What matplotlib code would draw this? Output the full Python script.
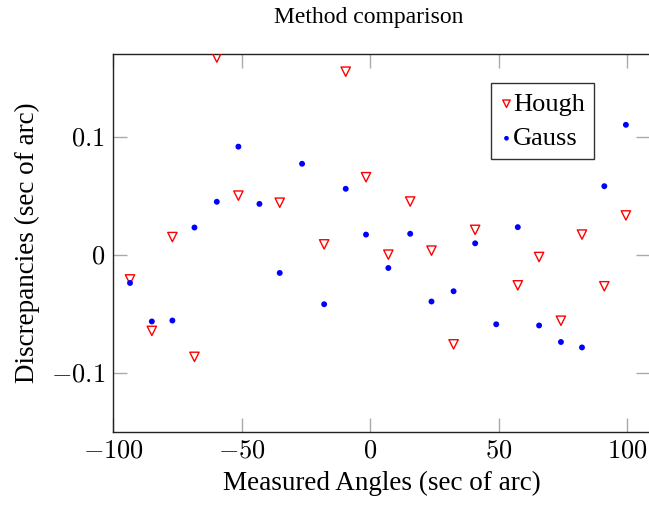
import matplotlib
matplotlib.use("Agg")
import matplotlib.pyplot as plt

x_vals = [-93.5, -85.0, -77.0, -68.4, -59.7, -51.3, -43.1, -35.2, -26.5, -17.9, -9.5, -1.6,
          7.1, 15.6, 23.9, 32.5, 40.9, 49.1, 57.5, 65.8, 74.3, 82.5, 91.2, 99.6]

hough_x = [-93.5, -85.0, -77.0, -68.4, -59.7, -51.3, -35.2, -17.9, -9.5, -1.6,
           7.1, 15.6, 23.9, 32.5, 40.9, 57.5, 65.8, 74.3, 82.5, 91.2, 99.6]
hough_y = [-0.021, -0.0646, 0.0149, -0.0866, 0.167, 0.050, 0.044, 0.0087, 0.155, 0.0656,
           0.0, 0.045, 0.0034, -0.076, 0.021, -0.026, -0.002, -0.056, 0.017, -0.0268, 0.0332]

gauss_x = x_vals
gauss_y = [-0.024, -0.0566, -0.0558, 0.023, 0.0448, 0.0915, 0.043, -0.0155, 0.077, -0.042,
           0.0558, 0.017, -0.0113, 0.0177, -0.0397, -0.031, 0.0096, -0.059, 0.0233, -0.060,
           -0.074, -0.0786, 0.058, 0.110]

xticks = [-100, -50, 0, 50, 100]
yticks = [-0.1, 0, 0.1]
ytick_labels = [r"$-0.1$", r"$0$", r"$0.1$"]
xtick_labels = [r"$-100$", r"$-50$", r"$0$", r"$50$", r"$100$"]

plt.rcParams['font.family'] = ['Liberation Serif', 'DejaVu Serif']
plt.rcParams['mathtext.fontset'] = 'cm'

fig = plt.figure(figsize=(6.49, 5.08), dpi=100)
ax = fig.add_axes([0.1746, 0.1502, 0.827, 0.7435])

ax.scatter(hough_x, hough_y, marker='v', s=45, facecolors='none', edgecolors='red',
           linewidths=1.0, label='Hough', zorder=3)
ax.scatter(gauss_x, gauss_y, marker='o', s=18, color='blue', edgecolors='none',
           label='Gauss', zorder=3)

ax.set_xlim(-100, 109)
ax.set_ylim(-0.15, 0.17)
ax.set_xticks(xticks)
ax.set_xticklabels(xtick_labels)
ax.set_yticks(yticks)
ax.set_yticklabels(ytick_labels)
ax.tick_params(direction='in', length=10, width=1, color='#aaaaaa', top=True, right=True,
               labelsize=19, pad=6)
for s in ax.spines.values():
    s.set_linewidth(1.0)
    s.set_color('#222222')

ax.set_title('Method comparison', fontsize=17, x=0.475, pad=22)
ax.set_xlabel('Measured Angles (sec of arc)', fontsize=19.5, labelpad=6)
ax.set_ylabel('Discrepancies (sec of arc)', fontsize=19.5, labelpad=8)

leg = ax.legend(loc='upper left', bbox_to_anchor=(0.704, 0.922), fontsize=19,
                frameon=True, fancybox=False, edgecolor='#333333', framealpha=1,
                handletextpad=0.0, handlelength=0.5, borderpad=0.33, labelspacing=0.42,
                borderaxespad=0, scatterpoints=1, markerscale=0.8)
leg.get_frame().set_linewidth(1.0)

fig.savefig('out.png', dpi=100)
